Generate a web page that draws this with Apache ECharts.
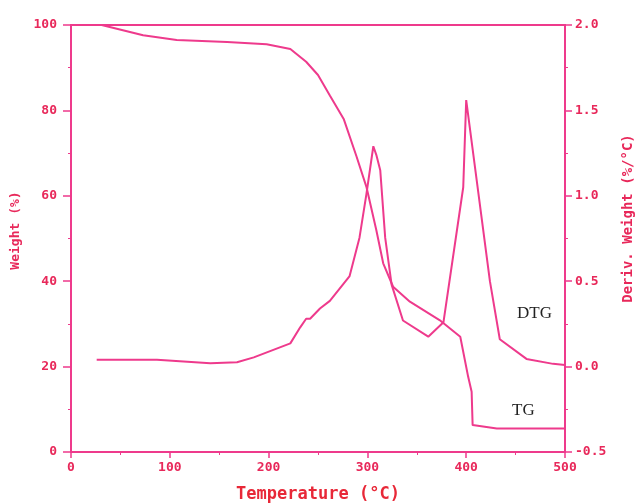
<!DOCTYPE html>
<html>
<head>
<meta charset="utf-8">
<script src="https://cdn.jsdelivr.net/npm/echarts@6/dist/echarts.min.js"></script>
<style>html,body{margin:0;padding:0;background:#fff;}#c{width:638px;height:503px;}</style>
</head>
<body>
<div id="c"></div>
<script>
// Temperature (°C) vs weight (%) — TG curve
const tgTemp   = [25, 31, 73, 107, 158, 198, 222, 238, 250, 262, 276, 289, 299, 309, 316, 326, 343, 373, 394, 402, 405.5, 406.5, 431, 500];
const tgWeight = [100, 100, 97.6, 96.5, 96, 95.5, 94.4, 91.4, 88.3, 83.5, 78, 69.2, 62.1, 52, 44.2, 38.7, 35.2, 30.9, 27.0, 17.6, 14.1, 6.3, 5.5, 5.5];
// Temperature (°C) vs derivative weight (%/°C) — DTG curve
const dtgTemp  = [26, 87, 141, 168, 185, 222, 232, 238, 242, 252, 262, 282, 292, 299, 306, 309, 313, 318, 324.5, 336, 361.6, 377, 397, 400, 424, 434, 461, 488, 500];
const dtgValue = [0.04, 0.04, 0.02, 0.025, 0.054, 0.136, 0.23, 0.28, 0.28, 0.34, 0.385, 0.53, 0.755, 1.01, 1.29, 1.24, 1.15, 0.755, 0.48, 0.27, 0.175, 0.26, 1.05, 1.56, 0.5, 0.16, 0.045, 0.016, 0.01];
const xTicks = [0, 100, 200, 300, 400, 500];
const leftTicks = [0, 20, 40, 60, 80, 100];
const rightTicks = [-0.5, 0.0, 0.5, 1.0, 1.5, 2.0];
const curveLabels = ['DTG', 'TG'];

const lineColor = '#ee3a8c';
const textColor = '#e8285a';
const monoFont = 'DejaVu Sans Mono';

const tgData = tgTemp.map((t, i) => [t, tgWeight[i]]);
const dtgData = dtgTemp.map((t, i) => [t, dtgValue[i]]);

const chart = echarts.init(document.getElementById('c'), null, {renderer: 'canvas'});
const labelStyle = {color: textColor, fontFamily: monoFont, fontWeight: 'bold', fontSize: 13};
chart.setOption({
  animation: false,
  backgroundColor: '#fff',
  grid: {left: 71, right: 73, top: 25, bottom: 51, containLabel: false, outerBoundsMode: 'none'},
  xAxis: [{
    type: 'value', min: xTicks[0], max: xTicks[xTicks.length - 1], interval: 100,
    position: 'bottom',
    name: 'Temperature (°C)', nameLocation: 'middle', nameGap: 34,
    nameTextStyle: {color: '#e82838', fontFamily: monoFont, fontWeight: 'bold', fontSize: 17},
    axisLine: {onZero: false, lineStyle: {color: lineColor, width: 2}},
    axisTick: {length: 6, lineStyle: {color: lineColor, width: 1.5}},
    minorTick: {show: true, splitNumber: 2, length: 3, lineStyle: {color: lineColor}},
    axisLabel: Object.assign({margin: 9}, labelStyle),
    splitLine: {show: false}
  }, {
    type: 'value', position: 'top', min: 0, max: 500,
    axisLine: {show: true, onZero: false, lineStyle: {color: lineColor, width: 2}},
    axisTick: {show: false}, axisLabel: {show: false}, splitLine: {show: false}
  }],
  yAxis: [{
    type: 'value', min: leftTicks[0], max: leftTicks[leftTicks.length - 1], interval: 20,
    position: 'left',
    name: 'Weight (%)', nameLocation: 'middle', nameGap: 46, nameRotate: 90,
    nameTextStyle: {color: textColor, fontFamily: monoFont, fontWeight: 'bold', fontSize: 13, padding: [0, 0, 0, 16]},
    axisLine: {show: true, onZero: false, lineStyle: {color: lineColor, width: 2}},
    axisTick: {show: true, length: 8, lineStyle: {color: lineColor, width: 1.5}},
    minorTick: {show: true, splitNumber: 2, length: 3, lineStyle: {color: lineColor}},
    axisLabel: Object.assign({margin: 14}, labelStyle),
    splitLine: {show: false}
  }, {
    type: 'value', min: rightTicks[0], max: rightTicks[rightTicks.length - 1], interval: 0.5,
    position: 'right',
    name: 'Deriv. Weight (%/°C)', nameLocation: 'middle', nameGap: 56, nameRotate: 90,
    nameTextStyle: {color: textColor, fontFamily: monoFont, fontWeight: 'bold', fontSize: 14, padding: [0, 0, 0, 40]},
    axisLine: {show: true, onZero: false, lineStyle: {color: lineColor, width: 2}},
    axisTick: {show: true, length: 7, lineStyle: {color: lineColor, width: 1.5}},
    minorTick: {show: true, splitNumber: 2, length: 3, lineStyle: {color: lineColor}},
    axisLabel: Object.assign({margin: 10, formatter: v => (v < 0 ? '-' : '') + Math.abs(v).toFixed(1)}, labelStyle),
    splitLine: {show: false}
  }],
  series: [{
    name: 'TG', type: 'line', xAxisIndex: 0, yAxisIndex: 0, data: tgData,
    symbol: 'none', lineStyle: {color: lineColor, width: 2}, z: 3
  }, {
    name: 'DTG', type: 'line', xAxisIndex: 0, yAxisIndex: 1, data: dtgData,
    symbol: 'none', lineStyle: {color: lineColor, width: 2}, z: 3
  }],
  graphic: [{
    type: 'text', left: 517, top: 305,
    style: {text: curveLabels[0], fill: '#222', font: '17px "Liberation Serif"'}
  }, {
    type: 'text', left: 512, top: 402,
    style: {text: curveLabels[1], fill: '#222', font: '17px "Liberation Serif"'}
  }]
});
</script>
</body>
</html>
